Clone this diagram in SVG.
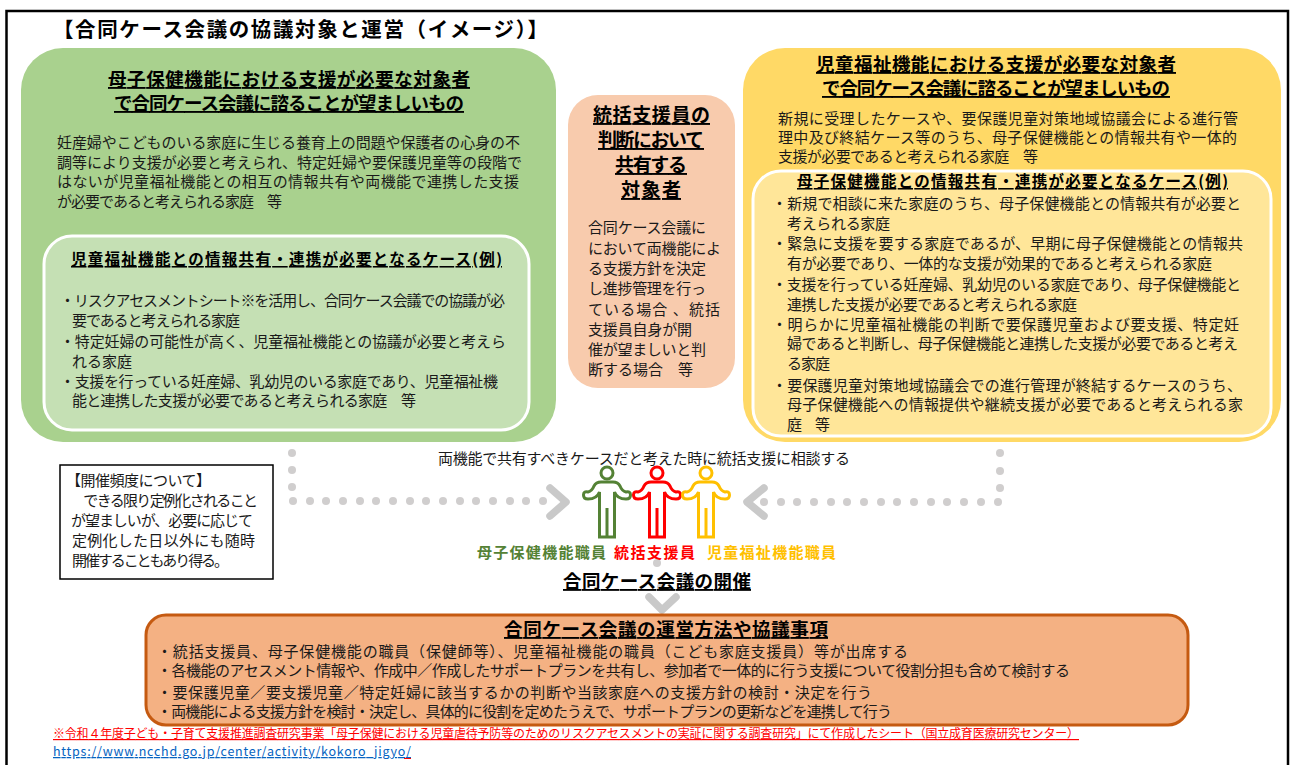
<svg xmlns="http://www.w3.org/2000/svg" width="1293" height="765" viewBox="0 0 1293 765">
<style>
text{font-family:"Noto Sans CJK JP","Noto Sans",sans-serif;fill:#1a1a1a;font-size:15px}
.h{font-weight:700;font-size:18.5px;fill:#000;text-decoration:underline}
.h2{font-weight:700;font-size:15.5px;fill:#000;text-decoration:underline}
.lb{font-weight:700;font-size:15px}
.dot{fill:#d0cece}
.chev{fill:none;stroke:#c9c9c9;stroke-width:7.5;stroke-linecap:round;stroke-linejoin:round}
</style>
<defs>
<g id="person">
<circle cx="0" cy="473" r="6"/>
<path d="M-7.5 537V492Q-10 499-19 499Q-23.5 499-23.5 495Q-23.5 491-19 492Q-15 491-13 486Q-11 482-6 482H6Q11 482 13 486Q15 491 19 492Q23.5 491 23.5 495Q23.5 499 19 499Q10 499 7.5 492V537ZM0 537V508"/>
</g>
</defs>
<rect width="1293" height="765" fill="#fff"/>
<rect id="frame" x="6.5" y="11" width="1281.500" height="770" fill="none" stroke="#000" stroke-width="2.5"/>
<text id="title" x="53" y="37" textLength="495" style="font-size:20.500px;font-weight:700;fill:#000">【合同ケース会議の協議対象と運営（イメージ）】</text>

<g id="connectors">
<g class="dot">
<circle cx="292" cy="453" r="4"/><circle cx="292" cy="470" r="4"/><circle cx="292" cy="487" r="4"/>
<circle cx="293" cy="501" r="4"/><circle cx="310" cy="501" r="4"/><circle cx="326" cy="501" r="4"/><circle cx="343" cy="501" r="4"/><circle cx="360" cy="501" r="4"/><circle cx="376" cy="501" r="4"/><circle cx="393" cy="501" r="4"/><circle cx="410" cy="501" r="4"/><circle cx="426" cy="501" r="4"/><circle cx="443" cy="501" r="4"/><circle cx="460" cy="501" r="4"/><circle cx="476" cy="501" r="4"/><circle cx="493" cy="501" r="4"/><circle cx="510" cy="501" r="4"/><circle cx="526" cy="501" r="4"/><circle cx="543" cy="501" r="4"/>
<circle cx="1000" cy="453" r="4"/><circle cx="1000" cy="471" r="4"/><circle cx="1000" cy="488" r="4"/>
<circle cx="764" cy="502" r="4"/><circle cx="781" cy="502" r="4"/><circle cx="797" cy="502" r="4"/><circle cx="814" cy="502" r="4"/><circle cx="831" cy="502" r="4"/><circle cx="847" cy="502" r="4"/><circle cx="864" cy="502" r="4"/><circle cx="881" cy="502" r="4"/><circle cx="897" cy="502" r="4"/><circle cx="914" cy="502" r="4"/><circle cx="931" cy="502" r="4"/><circle cx="947" cy="502" r="4"/><circle cx="964" cy="502" r="4"/><circle cx="981" cy="502" r="4"/><circle cx="998" cy="502" r="4"/>
<circle cx="657" cy="563" r="4"/><circle cx="661" cy="587" r="4"/>
</g>
<path class="chev" d="M550 488L566 502L550 516"/>
<path class="chev" d="M764 488L747 502L764 516"/>
<path class="chev" d="M649 597L662 610L676 597"/>
</g>

<g id="node-boshi">
<rect x="21" y="48" width="535" height="394" rx="42" fill="#a9d18e"/>
<text class="h" x="108" y="86" textLength="362">母子保健機能における支援が必要な対象者</text>
<text class="h" x="114" y="110" textLength="350">で合同ケース会議に諮ることが望ましいもの</text>
<text x="57" y="148" textLength="463">妊産婦やこどものいる家庭に生じる養育上の問題や保護者の心身の不</text>
<text x="57" y="168" textLength="465">調等により支援が必要と考えられ、特定妊婦や要保護児童等の段階で</text>
<text x="57" y="187" textLength="462">はないが児童福祉機能との相互の情報共有や両機能で連携した支援</text>
<text x="57" y="207" textLength="225">が必要であると考えられる家庭　等</text>
<rect x="44" y="236" width="485" height="194" rx="28" fill="#c5e0b4" stroke="#fff" stroke-width="3"/>
<text class="h2" x="71" y="265" textLength="431">児童福祉機能との情報共有・連携が必要となるケース(例)</text>
<text x="60" y="306" textLength="445">・リスクアセスメントシート※を活用し、合同ケース会議での協議が必</text>
<text x="72" y="326" textLength="168">要であると考えられる家庭</text>
<text x="60" y="347" textLength="446">・特定妊婦の可能性が高く、児童福祉機能との協議が必要と考えら</text>
<text x="72" y="367" textLength="60">れる家庭</text>
<text x="60" y="387" textLength="438">・支援を行っている妊産婦、乳幼児のいる家庭であり、児童福祉機</text>
<text x="72" y="406" textLength="344">能と連携した支援が必要であると考えられる家庭　等</text>
</g>

<g id="node-tokatsu">
<rect x="568" y="95" width="167" height="293" rx="30" fill="#f8cbad"/>
<text class="h" x="593" y="122" textLength="117" style="font-size:19px">統括支援員の</text>
<text class="h" x="598" y="147" textLength="106" style="font-size:19px">判断において</text>
<text class="h" x="615" y="172" textLength="72" style="font-size:19px">共有する</text>
<text class="h" x="621" y="197" textLength="60" style="font-size:19px">対象者</text>
<text x="588" y="233" textLength="118">合同ケース会議に</text>
<text x="588" y="254" textLength="133">において両機能によ</text>
<text x="588" y="274" textLength="118">る支援方針を決定</text>
<text x="588" y="294" textLength="118">し進捗管理を行っ</text>
<text x="588" y="315" textLength="132">ている場合 、統括</text>
<text x="588" y="335" textLength="104">支援員自身が開</text>
<text x="588" y="355" textLength="118">催が望ましいと判</text>
<text x="588" y="375" textLength="105">断する場合　等</text>
</g>

<g id="node-jido">
<rect x="743" y="48" width="538" height="394" rx="42" fill="#ffd966"/>
<text class="h" x="816" y="71" textLength="360">児童福祉機能における支援が必要な対象者</text>
<text class="h" x="822" y="95" textLength="348">で合同ケース会議に諮ることが望ましいもの</text>
<text x="778" y="124" textLength="460">新規に受理したケースや、要保護児童対策地域協議会による進行管</text>
<text x="778" y="143" textLength="459">理中及び終結ケース等のうち、母子保健機能との情報共有や一体的</text>
<text x="778" y="162" textLength="260">支援が必要であると考えられる家庭　等</text>
<rect x="753" y="171" width="518" height="265" rx="28" fill="#ffe699" stroke="#fff" stroke-width="3"/>
<text class="h2" x="797" y="187" textLength="431">母子保健機能との情報共有・連携が必要となるケース(例)</text>
<text x="772" y="209" textLength="469">・新規で相談に来た家庭のうち、母子保健機能との情報共有が必要と</text>
<text x="787" y="229" textLength="103">考えられる家庭</text>
<text x="772" y="249" textLength="471">・緊急に支援を要する家庭であるが、早期に母子保健機能との情報共</text>
<text x="787" y="269" textLength="425">有が必要であり、一体的な支援が効果的であると考えられる家庭</text>
<text x="772" y="290" textLength="469">・支援を行っている妊産婦、乳幼児のいる家庭であり、母子保健機能と</text>
<text x="787" y="310" textLength="290">連携した支援が必要であると考えられる家庭</text>
<text x="772" y="330" textLength="467">・明らかに児童福祉機能の判断で要保護児童および要支援、特定妊</text>
<text x="787" y="349" textLength="451">婦であると判断し、母子保健機能と連携した支援が必要であると考え</text>
<text x="787" y="369" textLength="43">る家庭</text>
<text x="772" y="391" textLength="470">・要保護児童対策地域協議会での進行管理が終結するケースのうち、</text>
<text x="787" y="410" textLength="456">母子保健機能への情報提供や継続支援が必要であると考えられる家</text>
<text x="787" y="430" textLength="43">庭　等</text>
</g>

<g id="node-freq">
<rect x="60" y="465" width="213" height="114" fill="#fff" stroke="#000" stroke-width="1.5"/>
<text x="66" y="486" textLength="145">【開催頻度について】</text>
<text x="70" y="506" textLength="188">　できる限り定例化されること</text>
<text x="71" y="526" textLength="182">が望ましいが、必要に応じて</text>
<text x="72" y="546" textLength="183">定例化した日以外にも随時</text>
<text x="72" y="566" textLength="157">開催することもあり得る。</text>
</g>

<g id="node-meeting">
<text x="438" y="464" textLength="412">両機能で共有すべきケースだと考えた時に統括支援に相談する</text>
<use href="#person" x="607" fill="none" stroke="#548235" stroke-width="3"/>
<use href="#person" x="657" fill="none" stroke="#ff0000" stroke-width="3"/>
<use href="#person" x="706" fill="none" stroke="#ffc000" stroke-width="3"/>
<text class="lb" x="477" y="558" textLength="129" style="fill:#548235">母子保健機能職員</text>
<text class="lb" x="614" y="558" textLength="81" style="fill:#ff0000">統括支援員</text>
<text class="lb" x="707" y="558" textLength="129" style="fill:#ffc000">児童福祉機能職員</text>
<text class="h" x="563" y="588" textLength="188">合同ケース会議の開催</text>
</g>

<g id="node-method">
<rect x="146" y="615" width="1042" height="110" rx="20" fill="#f4b183" stroke="#c55a11" stroke-width="3"/>
<text class="h" x="504" y="636" textLength="324">合同ケース会議の運営方法や協議事項</text>
<text x="157" y="657" textLength="751">・統括支援員、母子保健機能の職員（保健師等）、児童福祉機能の職員（こども家庭支援員）等が出席する</text>
<text x="157" y="676" textLength="913">・各機能のアセスメント情報や、作成中／作成したサポートプランを共有し、参加者で一体的に行う支援について役割分担も含めて検討する</text>
<text x="157" y="698" textLength="715">・要保護児童／要支援児童／特定妊婦に該当するかの判断や当該家庭への支援方針の検討・決定を行う</text>
<text x="157" y="717" textLength="735">・両機能による支援方針を検討・決定し、具体的に役割を定めたうえで、サポートプランの更新などを連携して行う</text>
</g>

<g id="notes">
<text x="53" y="738" textLength="1026" style="font-size:12px;fill:#ff0000;text-decoration:underline">※令和４年度子ども・子育て支援推進調査研究事業「母子保健における児童虐待予防等のためのリスクアセスメントの実証に関する調査研究」にて作成したシート（国立成育医療研究センター）</text>
<text x="53" y="756" textLength="358" style="font-size:12.5px;fill:#0563c1;text-decoration:underline">https://www.ncchd.go.jp/center/activity/kokoro_jigyo/</text>
<path d="M404 758.500H411" fill="none" stroke="#ff0000"/>
</g>
</svg>
